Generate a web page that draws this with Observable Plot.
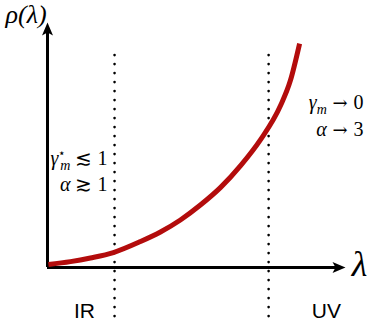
<!DOCTYPE html>
<html>
<head>
<meta charset="utf-8">
<script src="https://cdn.jsdelivr.net/npm/d3@7"></script>
<script src="https://cdn.jsdelivr.net/npm/@observablehq/plot@0.6"></script>
<style>
  html, body { margin: 0; padding: 0; background: #fff; }
  svg { display: block; }
</style>
</head>
<body>
<div id="chart"></div>
<script>
// wavelength (arbitrary units) and spectral density rho(lambda)
const lambda = [0.03, 0.77, 1.44, 2.21, 3.12, 3.79, 4.46, 5.13, 5.81, 6.48, 7.15, 7.82, 8.15, 8.46];
const rho    = [0.12, 0.24, 0.39, 0.61, 1.06, 1.45, 1.94, 2.55, 3.27, 4.16, 5.22, 6.61, 7.63, 9.14];
// regime boundaries (dotted lines)
const boundaries = [2.25, 7.42];
const regimeLabels = ["IR", "UV"];

const curve = lambda.map((l, i) => ({lambda: l, rho: rho[i]}));

// stealth arrowhead with tip at origin, pointing up
const stealth = {
  draw(ctx) {
    ctx.moveTo(0, 0);
    ctx.lineTo(5.5, 13);
    ctx.lineTo(0, 10);
    ctx.lineTo(-5.5, 13);
    ctx.closePath();
  }
};

const SERIF = "Liberation Serif";
const SANS = "Liberation Sans";

const chart = Plot.plot({
  width: 374,
  height: 321,
  marginLeft: 47,
  marginRight: 29,
  marginTop: 22,
  marginBottom: 54,
  style: {fontFamily: SERIF, background: "#fff"},
  x: {domain: [0, 10], axis: null},
  y: {domain: [0, 10], axis: null},
  marks: [
    // dotted regime boundaries
    Plot.ruleX(boundaries, {y1: 8.65, y2: -2.16, stroke: "#000", strokeWidth: 2.6,
      strokeDasharray: "0,9", strokeLinecap: "round"}),
    // axes
    Plot.ruleY([0], {x1: 0, x2: 9.7, stroke: "#000", strokeWidth: 3}),
    Plot.ruleX([0], {y1: 0, y2: 9.7, stroke: "#000", strokeWidth: 3}),
    Plot.dot([0], {x: 0, y: 10, symbol: stealth, fill: "#000", stroke: "none"}),
    Plot.dot([0], {x: 10, y: 0, symbol: stealth, fill: "#000", stroke: "none", rotate: 90}),
    // spectral curve
    Plot.line(curve, {x: "lambda", y: "rho", stroke: "#b30c0c", strokeWidth: 5,
      curve: "monotone-x", strokeLinecap: "butt"}),
    // axis labels
    Plot.text(["ρ(λ)"], {x: -0.72, y: 10.3, fontSize: 26, fontStyle: "italic",
      fontFamily: SERIF, fill: "#000"}),
    Plot.text(["λ"], {x: 10.47, y: 0.12, fontSize: 36, fontStyle: "italic",
      fontFamily: SERIF, fill: "#000"}),
    // regime labels
    Plot.text(regimeLabels, {x: (d, i) => [1.24, 9.36][i], y: -1.78, fontSize: 21,
      fontFamily: SANS, fill: "#000"}),
    // annotations
    Plot.text(["IRgamma"], {x: 2.01, y: 4.45, text: () => "γ m ≲ 1", textAnchor: "end",
      fontSize: 20, fontFamily: SERIF, fill: "#000", className: "annirg"}),
    Plot.text(["IRalpha"], {x: 2.01, y: 3.39, text: () => "α ≳ 1", textAnchor: "end",
      fontSize: 20, fontFamily: SERIF, fill: "#000", className: "annira"}),
    Plot.text(["UVgamma"], {x: 10.6, y: 6.73, text: () => "γm → 0", textAnchor: "end",
      fontSize: 20, fontFamily: SERIF, fill: "#000", className: "annuvg"}),
    Plot.text(["UValpha"], {x: 10.6, y: 5.63, text: () => "α → 3", textAnchor: "end",
      fontSize: 20, fontFamily: SERIF, fill: "#000", className: "annuva"})
  ]
});

document.getElementById("chart").appendChild(chart);

// typeset the math annotations with italic symbols, sub/superscripts
const svg = d3.select(chart);
const arrow = '<tspan font-family="DejaVu Serif" font-size="18"> → </tspan>';
svg.select(".annirg text").html(
  '<tspan font-style="italic">γ</tspan>' +
  '<tspan font-size="12" dy="-8">⋆</tspan>' +
  '<tspan font-size="14" font-style="italic" dx="-6" dy="13">m</tspan>' +
  '<tspan dy="-5"> ≲ </tspan><tspan>1</tspan>');
svg.select(".annira text").html(
  '<tspan font-style="italic">α</tspan>' +
  '<tspan> ≳ </tspan><tspan>1</tspan>');
svg.select(".annuvg text").html(
  '<tspan font-style="italic">γ</tspan>' +
  '<tspan font-size="14" font-style="italic" dy="5">m</tspan>' +
  '<tspan dy="-5" font-family="DejaVu Serif" font-size="18"> → </tspan><tspan>0</tspan>');
svg.select(".annuva text").html(
  '<tspan font-style="italic">α</tspan>' + arrow + '<tspan>3</tspan>');
</script>
</body>
</html>
